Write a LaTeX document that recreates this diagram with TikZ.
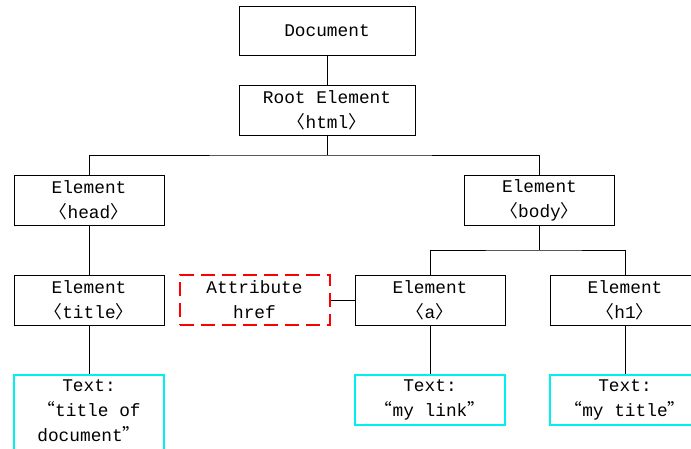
\documentclass[tikz,border=0pt]{standalone}
\usepackage{fontspec}
\setmainfont{Liberation Mono}
\newfontfamily\cjk[CharacterWidth=Full]{Noto Sans CJK SC}
\newcommand{\myLb}{{\cjk 〈}}
\newcommand{\myRb}{{\cjk 〉}}
\newcommand{\myLq}{{\cjk “}}
\newcommand{\myRq}{{\cjk ”}}
\definecolor{aqua}{RGB}{0,240,240}
\definecolor{dred}{RGB}{255,0,0}
\tikzset{
  base/.style={minimum width=150pt, minimum height=50pt, inner sep=0pt, align=center,
    font=\fontsize{17.8}{25}\selectfont},
  elem/.style={base, draw=black, line width=0.9pt},
  attr/.style={base, draw=dred, line width=2pt, dash pattern=on 14pt off 7pt},
  txt/.style={base, draw=aqua, line width=2pt},
  plain/.style={inner sep=0pt, align=center, font=\fontsize{17.8}{25}\selectfont},
  conn/.style={draw=black, line width=0.9pt}
}
\begin{document}
\begin{tikzpicture}[x=1pt,y=-1pt]
\useasboundingbox (0,0) rectangle (691,449);
\clip (0,0) rectangle (691,449);
\node[elem, minimum width=176pt, minimum height=49pt] (doc) at (327,30.5) {Document};
\node[elem, minimum width=176pt] (root) at (327,110) {Root Element\\\myLb html\myRb};
\node[elem] (head) at (89,200) {Element\\\myLb head\myRb};
\node[elem] (body) at (539.5,200) {Element\\\myLb body\myRb};
\node[elem] (title) at (89,300) {Element\\\myLb title\myRb};
\node[attr] (href) at (254.5,300) {Attribute\\href};
\node[elem] (a) at (430,300) {Element\\\myLb a\myRb};
\node[elem] (h1) at (625,300) {Element\\\myLb h1\myRb};
\node[txt, minimum height=90pt] (ttitle) at (89,420) {};
\node[plain] (ttitletext) at (89,411) {Text:\\\myLq title of\\document\myRq};
\node[txt] (tlink) at (430,400) {Text:\\\myLq my link\myRq};
\node[txt] (th1) at (625,400) {Text:\\\myLq my title\myRq};
\coordinate (bus1) at (327,155);
\coordinate (bus2) at (539.5,250);
\draw[conn] (doc) -- (root);
\draw[conn] (root.south) -- (bus1);
\draw[conn] (head.north) |- (bus1) -| (body.north);
\draw[conn] (head) -- (title);
\draw[conn] (title) -- (ttitle);
\draw[conn] (body.south) -- (bus2);
\draw[conn] (a.north) |- (bus2) -| (h1.north);
\draw[conn] (href) -- (a);
\draw[conn] (a) -- (tlink);
\draw[conn] (h1) -- (th1);
\end{tikzpicture}
\end{document}
